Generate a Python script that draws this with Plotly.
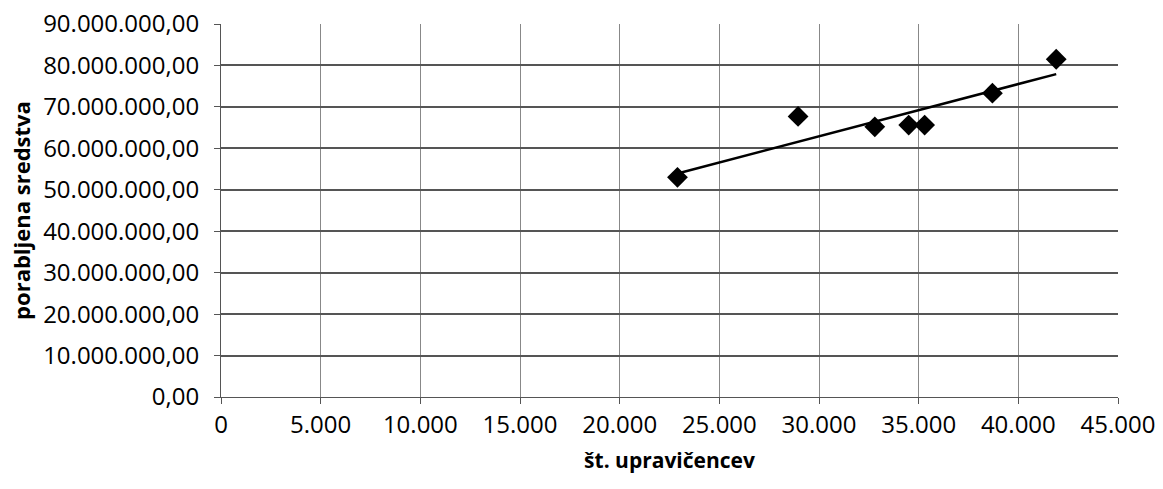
import numpy as np
import plotly.graph_objects as go

# data
upravicenci = [22900, 28950, 32800, 34500, 35300, 38700, 41900]
sredstva = [53_000_000, 67_700_000, 65_200_000, 65_600_000, 65_600_000, 73_300_000, 81_500_000]
x_title = "št. upravičencev"
y_title = "porabljena sredstva"

# linear trend line (least squares) over the data range
coef = np.polyfit(upravicenci, sredstva, 1)
tx = [min(upravicenci), max(upravicenci)]
ty = [coef[0] * v + coef[1] for v in tx]

fig = go.Figure()
fig.add_trace(go.Scatter(x=tx, y=ty, mode="lines",
                         line=dict(color="black", width=2.5),
                         showlegend=False, hoverinfo="skip"))
fig.add_trace(go.Scatter(x=upravicenci, y=sredstva, mode="markers",
                         marker=dict(symbol="diamond", size=16, color="black"),
                         showlegend=False))

font_family = "Open Sans, Lato, DejaVu Sans, sans-serif"
fig.update_layout(
    width=1163, height=489,
    margin=dict(l=221, r=45, t=24, b=92),
    paper_bgcolor="white", plot_bgcolor="white",
    separators=",.",
    font=dict(family=font_family, size=24, color="black"),
    xaxis=dict(
        range=[0, 45000], tickvals=list(range(0, 45001, 5000)),
        tickformat=",d", automargin=False,
        showgrid=True, gridcolor="#888888", gridwidth=1,
        showline=True, linecolor="#555555", linewidth=1,
        ticks="outside", ticklen=6, tickcolor="#555555",
        zeroline=False,
        title=dict(text="<b>" + x_title + "</b>", font=dict(size=21), standoff=14),
        tickfont=dict(size=24),
    ),
    yaxis=dict(
        range=[0, 90_000_000], tickvals=list(range(0, 90_000_001, 10_000_000)),
        tickformat=",.2f", automargin=False,
        showgrid=True, gridcolor="#555555", gridwidth=1.5,
        showline=True, linecolor="#555555", linewidth=1,
        ticks="outside", ticklen=6, tickcolor="#555555",
        zeroline=False,
        title=dict(text="<b>" + y_title + "</b>", font=dict(size=22), standoff=6),
        tickfont=dict(size=24),
        ticklabelstandoff=10,
    ),
)

fig.write_html("out.html")
